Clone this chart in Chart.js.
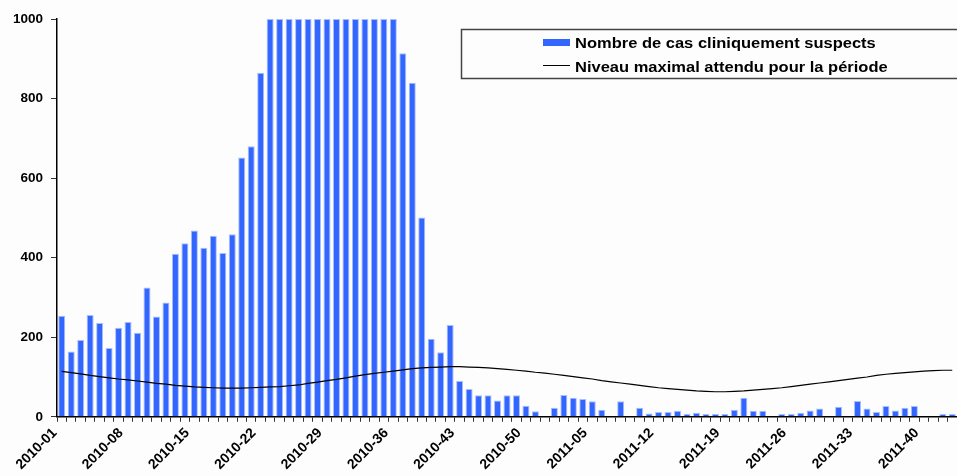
<!DOCTYPE html>
<html>
<head>
<meta charset="utf-8">
<script src="https://cdn.jsdelivr.net/npm/chart.js@4.4.0/dist/chart.umd.min.js"></script>
<style>
  html, body { margin: 0; padding: 0; background: #fdfdfd; overflow: hidden; }
  #wrap { width: 957px; height: 476px; position: relative; }
</style>
</head>
<body>
<div id="wrap"><canvas id="cas-chart"></canvas></div>
<script>
// semaines 2010-01 .. 2011-43
const weeksPerYear = { 2010: 52, 2011: 43 };
const weeks = [];
Object.keys(weeksPerYear).forEach(y => {
  for (let w = 1; w <= weeksPerYear[y]; w++) weeks.push(y + "-" + String(w).padStart(2, "0"));
});

const shownTicks = ["2010-01", "2010-08", "2010-15", "2010-22", "2010-29", "2010-36", "2010-43",
  "2010-50", "2011-05", "2011-12", "2011-19", "2011-26", "2011-33", "2011-40"];

// cas cliniquement suspects (barres coupées à 1000 sur le graphique)
const cases = [
  254, 164, 193, 256, 236, 173, 224, 238, 211, 325, 252, 287, 410, 436, 468, 425, 455, 412, 459, 652,
  680, 865, 1000, 1000, 1000, 1000, 1000, 1000, 1000, 1000, 1000, 1000, 1000, 1000, 1000, 1000, 914, 840, 501, 196,
  162, 231, 90, 70, 54, 54, 41, 54, 54, 28, 14, 0, 23, 55, 48, 45, 39, 18, 0, 39,
  0, 23, 8, 12, 12, 15, 7, 10, 7, 7, 7, 18, 48, 15, 15, 0, 7, 7, 10, 16,
  21, 0, 25, 0, 40, 21, 12, 27, 16, 23, 27, 0, 0, 7, 7
];

// niveau maximal attendu
const threshold = [
  114, 111, 108, 104, 101, 98, 95, 93, 90, 87, 84, 82, 79, 77, 75, 74, 73, 72, 72, 72,
  73, 74, 75, 76, 78, 80, 84, 87, 91, 94, 98, 102, 106, 109, 112, 115, 118, 121, 123, 124,
  125, 126, 126, 125, 124, 123, 121, 119, 117, 115, 112, 110, 107, 104, 101, 98, 95, 91, 88, 85,
  82, 79, 76, 73, 71, 69, 67, 65, 64, 63, 63, 64, 65, 67, 69, 71, 73, 76, 79, 82,
  85, 88, 91, 94, 97, 100, 104, 107, 109, 111, 113, 115, 116, 117, 117
];

const yTicks = [0, 200, 400, 600, 800, 1000];

Chart.defaults.font.family = "'Liberation Sans', Arial, sans-serif";
Chart.defaults.color = "#000";

// légende encadrée, dessinée à la main
const boxLegend = {
  id: "boxLegend",
  afterDraw(chart) {
    const ctx = chart.ctx;
    const ds = chart.data.datasets;
    ctx.save();
    ctx.fillStyle = "#fdfdfd";
    ctx.fillRect(461.5, 29.5, 500, 49);
    ctx.strokeStyle = "#444";
    ctx.lineWidth = 1.5;
    ctx.strokeRect(461.5, 29.5, 500, 49);
    ctx.fillStyle = ds[1].backgroundColor;
    ctx.fillRect(543, 39, 27, 7);
    ctx.strokeStyle = "#000";
    ctx.lineWidth = 1;
    ctx.beginPath();
    ctx.moveTo(543, 65.5);
    ctx.lineTo(570, 65.5);
    ctx.stroke();
    ctx.font = "bold 15px 'Liberation Sans', Arial, sans-serif";
    ctx.textBaseline = "alphabetic";
    ctx.fillStyle = "#000";
    [[ds[1].label, 47.5], [ds[0].label, 72]].forEach(([txt, y]) => {
      ctx.save();
      ctx.translate(575, y);
      ctx.scale(1.1, 1);
      ctx.fillText(txt, 0, 0);
      ctx.restore();
    });
    ctx.restore();
  }
};

const ctx = document.getElementById("cas-chart").getContext("2d");
const casChart = new Chart(ctx, {
  type: "bar",
  data: {
    labels: weeks,
    datasets: [
      {
        type: "line",
        label: "Niveau maximal attendu pour la période",
        data: threshold,
        borderColor: "#000",
        borderWidth: 1.2,
        pointRadius: 0,
        tension: 0,
        order: 0,
      },
      {
        label: "Nombre de cas cliniquement suspects",
        data: cases,
        backgroundColor: "#3366ff",
        borderColor: "#a9bfff",
        borderWidth: 1,
        barPercentage: 0.74,
        categoryPercentage: 1,
        order: 1,
      },
    ],
  },
  options: {
    responsive: true,
    maintainAspectRatio: false,
    animation: false,
    layout: { padding: { top: 19, right: 0, left: 0, bottom: 0 } },
    plugins: {
      legend: { display: false },
      tooltip: { enabled: false },
    },
    scales: {
      x: {
        offset: true,
        grid: { offset: true, drawOnChartArea: false, tickLength: 5, color: "#333" },
        border: { color: "#000", width: 1.5 },
        ticks: {
          autoSkip: false,
          minRotation: 45,
          maxRotation: 45,
          labelOffset: -7,
          font: { size: 14, weight: "bold" },
          callback: function (v, i) {
            const lab = weeks[i];
            return shownTicks.includes(lab) ? lab : "";
          },
        },
        afterFit(scale) {
          scale.paddingLeft = 0;
          scale.paddingRight = 0;
        },
      },
      y: {
        min: 0,
        max: 1000,
        grid: { drawOnChartArea: false, tickLength: 6, color: "#333" },
        border: { color: "#000", width: 1.5 },
        afterBuildTicks(scale) { scale.ticks = yTicks.map(v => ({ value: v })); },
        ticks: {
          padding: 8,
          font: { size: 13.5, weight: "bold" },
          callback: v => String(v),
        },
        afterFit(scale) { scale.width = 57; },
      },
    },
  },
  plugins: [boxLegend],
});
</script>
</body>
</html>
